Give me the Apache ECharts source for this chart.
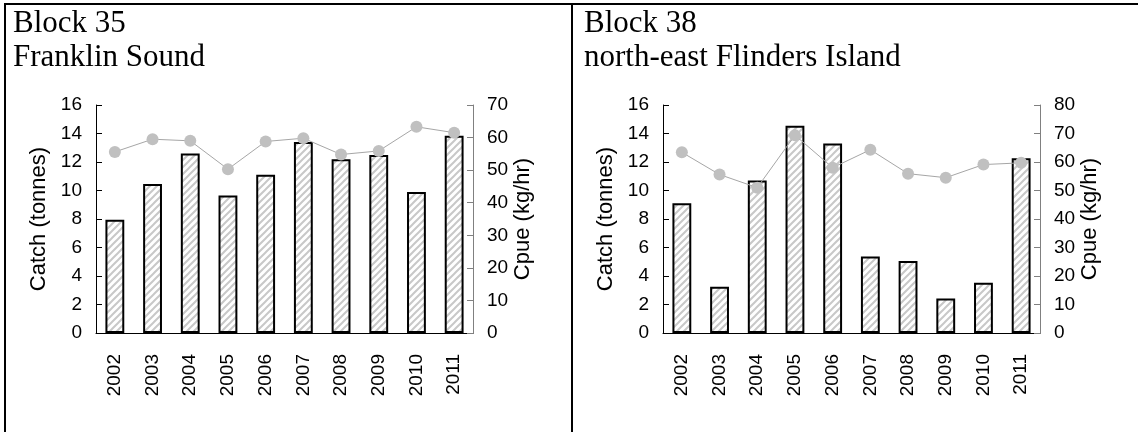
<!DOCTYPE html>
<html>
<head>
<meta charset="utf-8">
<script src="https://cdn.jsdelivr.net/npm/echarts@6/dist/echarts.min.js"></script>
<style>
html,body{margin:0;padding:0;background:#fff;}
#c{width:1138px;height:432px;}
</style>
</head>
<body>
<div id="c"></div>
<script>
var years = ['2002','2003','2004','2005','2006','2007','2008','2009','2010','2011'];
var catch35 = [7.95, 10.45, 12.6, 9.65, 11.1, 13.4, 12.2, 12.5, 9.9, 13.85];
var cpue35  = [55.6, 59.5, 59.0, 50.3, 58.8, 59.8, 54.8, 55.9, 63.3, 61.5];
var catch38 = [9.1, 3.25, 10.7, 14.55, 13.3, 5.37, 5.06, 2.42, 3.52, 12.27];
var cpue38  = [63.4, 55.6, 51.0, 69.4, 58.0, 64.3, 55.9, 54.5, 59.1, 59.7];
var titles35 = ['Block 35', 'Franklin Sound'];
var titles38 = ['Block 38', 'north-east Flinders Island'];

function hatch() {
  var n = 7;
  var cv = document.createElement('canvas');
  cv.width = n; cv.height = n;
  var ctx = cv.getContext('2d');
  ctx.fillStyle = '#ffffff';
  ctx.fillRect(0, 0, n, n);
  ctx.strokeStyle = '#c8c8c8';
  ctx.lineWidth = 2;
  ctx.beginPath();
  ctx.moveTo(-1, n + 1); ctx.lineTo(n + 1, -1);
  ctx.moveTo(-1, 1); ctx.lineTo(1, -1);
  ctx.moveTo(n - 1, n + 1); ctx.lineTo(n + 1, n - 1);
  ctx.stroke();
  return cv;
}
var pat = hatch();

var FONT = 'Liberation Sans, Arial, sans-serif';
var SERIF = 'Liberation Serif, Times New Roman, serif';

function xAxis(gi) {
  return {
    type: 'category', gridIndex: gi, data: years,
    axisLine: {lineStyle: {color: '#000', width: 1}},
    axisTick: {inside: true, length: 6, interval: 0, lineStyle: {color: '#000'}},
    axisLabel: {rotate: 90, fontSize: 19, fontFamily: FONT, color: '#000', margin: 21, interval: 0}
  };
}
function yLeft(gi) {
  return {
    type: 'value', gridIndex: gi, min: 0, max: 16, interval: 2, position: 'left',
    name: 'Catch (tonnes)', nameLocation: 'middle', nameGap: 46, nameRotate: 90,
    nameTextStyle: {fontSize: 22, fontFamily: FONT, color: '#000'},
    axisLine: {show: true, lineStyle: {color: '#000', width: 1}},
    axisTick: {show: true, inside: true, length: 6, lineStyle: {color: '#000'}},
    axisLabel: {fontSize: 19, fontFamily: FONT, color: '#000', margin: 14},
    splitLine: {show: false}
  };
}
function yRight(gi, max) {
  return {
    type: 'value', gridIndex: gi, min: 0, max: max, interval: 10, position: 'right',
    name: 'Cpue (kg/hr)', nameLocation: 'middle', nameGap: 36, nameRotate: 90,
    nameTextStyle: {fontSize: 22, fontFamily: FONT, color: '#000'},
    axisLine: {show: true, lineStyle: {color: '#808080', width: 1}},
    axisTick: {show: true, inside: true, length: 6, lineStyle: {color: '#808080'}},
    axisLabel: {fontSize: 19, fontFamily: FONT, color: '#000', margin: 14},
    splitLine: {show: false}
  };
}
function bar(xi, yi, data) {
  return {
    type: 'bar', xAxisIndex: xi, yAxisIndex: yi, data: data, barWidth: '50%',
    itemStyle: {color: {image: pat, repeat: 'repeat'}, borderColor: '#000', borderWidth: 2},
    silent: true
  };
}
function line(xi, yi, data) {
  return {
    type: 'line', xAxisIndex: xi, yAxisIndex: yi, data: data,
    symbol: 'circle', symbolSize: 12,
    lineStyle: {color: '#a6a6a6', width: 1},
    itemStyle: {color: '#c0c0c0'},
    silent: true, z: 3
  };
}
function titleText(x, y, s) {
  return {type: 'text', left: x, top: y, style: {text: s, fontSize: 31, fontFamily: SERIF, fill: '#000'}};
}

var chart = echarts.init(document.getElementById('c'), null, {renderer: 'canvas'});
chart.setOption({
  animation: false,
  backgroundColor: '#fff',
  grid: [
    {left: 96, top: 105, width: 377, height: 228},
    {left: 663, top: 105, width: 377, height: 228}
  ],
  xAxis: [xAxis(0), xAxis(1)],
  yAxis: [yLeft(0), yRight(0, 70), yLeft(1), yRight(1, 80)],
  series: [
    bar(0, 0, catch35), line(0, 1, cpue35),
    bar(1, 2, catch38), line(1, 3, cpue38)
  ],
  graphic: [
    {type: 'line', shape: {x1: 4, y1: 4, x2: 1138, y2: 4}, style: {stroke: '#000', lineWidth: 2}},
    {type: 'line', shape: {x1: 5, y1: 3, x2: 5, y2: 432}, style: {stroke: '#000', lineWidth: 2}},
    {type: 'line', shape: {x1: 572, y1: 3, x2: 572, y2: 432}, style: {stroke: '#000', lineWidth: 2}},
    titleText(13, 8, titles35[0]),
    titleText(13, 42, titles35[1]),
    titleText(584, 8, titles38[0]),
    titleText(584, 42, titles38[1])
  ]
});
</script>
</body>
</html>
